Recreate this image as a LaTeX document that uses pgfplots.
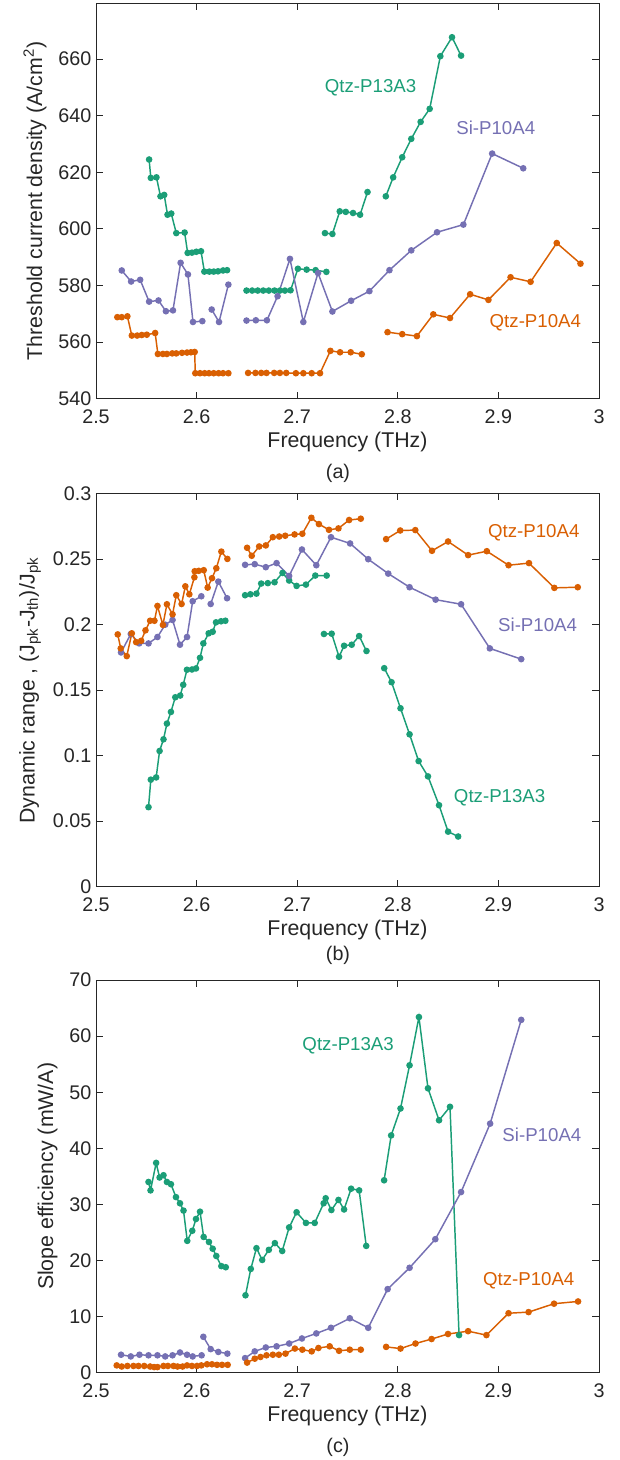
\documentclass[border=0pt]{standalone}
\usepackage{fontspec}
\setmainfont{Liberation Sans}
\usepackage{pgfplots}
\pgfplotsset{compat=1.18}
\definecolor{cg}{RGB}{27,158,119}
\definecolor{co}{RGB}{217,95,2}
\definecolor{cp}{RGB}{117,112,179}
\definecolor{axg}{RGB}{38,38,38}
\tikzset{ann/.style={font=\fontsize{14}{16}\selectfont, anchor=base west, inner sep=0pt}}
\pgfplotsset{
  myax/.style={
    scale only axis, width=377.25pt, anchor=south west,
    xmin=2.5, xmax=3,
    xtick={2.5,2.6,2.7,2.8,2.9,3}, xticklabels={2.5,2.6,2.7,2.8,2.9,3},
    tick align=inside, major tick length=5pt,
    axis line style={color=axg, line width=0.7pt},
    tick style={color=axg, line width=0.7pt},
    ticklabel style={font=\fontsize{14.8}{17}\selectfont, color=axg},
    xticklabel style={yshift=-4.5pt},
    label style={font=\fontsize{16}{19}\selectfont, color=axg},
    ylabel shift=2pt,
    xlabel={Frequency (THz)},
    scaled ticks=false,
    /pgf/number format/assume math mode=true,
  },
  ser/.style={line width=1.1pt, mark=*, mark size=1.9pt, mark options={solid}},
}
\begin{document}
\begin{tikzpicture}
\path[use as bounding box] (0pt,0pt) rectangle (465pt,1095pt);
%================ (a)
\begin{axis}[myax, at={(72pt,795.98pt)}, height=296.55pt,
  ymin=540, ymax=679.7, ytick={540,560,580,600,620,640,660},
  ylabel={Threshold current density (A/cm\textsuperscript{2})}]
% green
\addplot[ser, cg] coordinates {(2.5528,624.5)(2.5545,618.0)(2.5601,618.2)(2.5641,611.5)(2.5678,612.0)(2.5711,605.0)(2.5748,605.4)(2.5798,598.5)(2.5881,598.7)(2.5911,591.5)(2.5954,591.6)(2.5997,591.9)(2.6044,592.1)(2.6077,584.9)(2.6127,584.9)(2.6170,584.9)(2.6213,585.0)(2.6263,585.3)(2.6303,585.4)};
\addplot[ser, cg] coordinates {(2.6496,578.2)(2.6552,578.2)(2.6608,578.2)(2.6662,578.2)(2.6718,578.2)(2.6775,578.2)(2.6828,578.2)(2.6878,578.2)(2.6934,578.3)(2.7007,585.9)(2.7094,585.6)(2.7183,585.4)(2.7290,584.8)};
\addplot[ser, cg] coordinates {(2.7276,598.5)(2.7350,598.2)(2.7423,606.2)(2.7483,606.0)(2.7555,605.6)(2.7625,605.0)(2.7699,613.0)};
\addplot[ser, cg] coordinates {(2.7881,611.5)(2.7954,618.2)(2.8044,625.3)(2.8134,631.8)(2.8227,637.8)(2.8317,642.4)(2.8423,661.0)(2.8539,667.7)(2.8629,661.2)};
% purple
\addplot[ser, cp] coordinates {(2.5256,585.3)(2.5349,581.4)(2.5439,582.0)(2.5528,574.3)(2.5621,574.7)(2.5695,570.9)(2.5765,571.2)(2.5841,588.0)(2.5914,583.9)(2.5964,567.1)(2.6057,567.4)};
\addplot[ser, cp] coordinates {(2.6150,571.5)(2.6223,567.1)(2.6316,580.3)};
\addplot[ser, cp] coordinates {(2.6496,567.6)(2.6589,567.7)(2.6699,567.7)(2.6805,576.2)(2.6928,589.4)(2.7061,567.1)(2.7207,584.4)(2.7350,570.8)(2.7536,574.6)(2.7718,578.0)(2.7917,585.4)(2.8134,592.4)(2.8390,598.8)(2.8652,601.5)(2.8938,626.6)(2.9247,621.4)};
% orange
\addplot[ser, co] coordinates {(2.5212,568.8)(2.5256,568.8)(2.5312,569.1)(2.5356,562.3)(2.5409,562.3)(2.5455,562.5)(2.5505,562.6)(2.5588,563.2)(2.5615,555.8)(2.5665,555.8)(2.5705,555.8)(2.5758,556.0)(2.5798,556.0)(2.5855,556.2)(2.5905,556.3)(2.5944,556.4)(2.5981,556.5)(2.5987,549.0)(2.6034,549.0)(2.6080,549.0)(2.6123,549.0)(2.6170,549.0)(2.6219,549.0)(2.6263,549.0)(2.6316,549.0)};
\addplot[ser, co] coordinates {(2.6512,549.1)(2.6585,549.1)(2.6642,549.1)(2.6695,549.1)(2.6771,549.1)(2.6828,549.1)(2.6891,549.1)(2.6987,549.0)(2.7061,549.0)(2.7144,549.0)(2.7227,549.0)(2.7330,556.9)(2.7426,556.4)(2.7532,556.4)(2.7642,555.7)};
\addplot[ser, co] coordinates {(2.7898,563.5)(2.8044,562.8)(2.8190,562.1)(2.8353,569.8)(2.8519,568.5)(2.8719,576.9)(2.8901,574.9)(2.9121,582.9)(2.9320,581.3)(2.9580,595.0)(2.9816,587.7)};
\node[ann, cg] at (axis cs:2.7273,648.1) {Qtz-P13A3};
\node[ann, cp] at (axis cs:2.8579,633.3) {Si-P10A4};
\node[ann, co] at (axis cs:2.8911,565.0) {Qtz-P10A4};
\end{axis}
\node[font=\fontsize{14.8}{17}\selectfont, anchor=base, inner sep=0pt, color=axg] at (253.5pt,735.75pt) {(a)};
%================ (b)
\begin{axis}[myax, at={(72pt,429.98pt)}, height=294.75pt,
  ymin=0, ymax=0.3, ytick={0,0.05,0.1,0.15,0.2,0.25,0.3}, yticklabels={0,0.05,0.1,0.15,0.2,0.25,0.3},
  ylabel={Dynamic range , (J\textsubscript{pk}-J\textsubscript{th})/J\textsubscript{pk}}]
% green
\addplot[ser, cg] coordinates {(2.5522,0.0607)(2.5545,0.0817)(2.5598,0.0834)(2.5632,0.1036)(2.5671,0.1125)(2.5705,0.1245)(2.5745,0.1334)(2.5788,0.1446)(2.5837,0.1459)(2.5867,0.1541)(2.5904,0.1656)(2.5954,0.1658)(2.5994,0.1666)(2.6034,0.1747)(2.6067,0.1857)(2.6120,0.1934)(2.6160,0.1946)(2.6193,0.2018)(2.6243,0.2026)(2.6286,0.2030)};
\addplot[ser, cg] coordinates {(2.6482,0.2225)(2.6535,0.2232)(2.6595,0.2237)(2.6642,0.2314)(2.6708,0.2317)(2.6775,0.2324)(2.6854,0.2395)(2.6920,0.2337)(2.6994,0.2296)(2.7087,0.2306)(2.7180,0.2375)(2.7293,0.2375)};
\addplot[ser, cg] coordinates {(2.7266,0.1929)(2.7343,0.1931)(2.7416,0.1755)(2.7466,0.1839)(2.7542,0.1847)(2.7616,0.1913)(2.7689,0.1799)};
\addplot[ser, cg] coordinates {(2.7865,0.1668)(2.7938,0.1561)(2.8027,0.1362)(2.8117,0.1163)(2.8207,0.0959)(2.8300,0.0842)(2.8410,0.0622)(2.8500,0.0420)(2.8600,0.0383)};
% purple
\addplot[ser, cp] coordinates {(2.5249,0.1788)(2.5346,0.1929)(2.5429,0.1857)(2.5522,0.1857)(2.5611,0.1906)(2.5688,0.2000)(2.5761,0.2036)(2.5835,0.1847)(2.5905,0.1906)(2.5961,0.2179)(2.6047,0.2217)};
\addplot[ser, cp] coordinates {(2.6140,0.2158)(2.6216,0.2329)(2.6303,0.2202)};
\addplot[ser, cp] coordinates {(2.6482,0.2457)(2.6578,0.2462)(2.6688,0.2439)(2.6795,0.2470)(2.6920,0.2372)(2.7047,0.2574)(2.7190,0.2454)(2.7336,0.2668)(2.7526,0.2620)(2.7706,0.2500)(2.7905,0.2390)(2.8117,0.2286)(2.8376,0.2191)(2.8629,0.2156)(2.8915,0.1819)(2.9227,0.1737)};
% orange
\addplot[ser, co] coordinates {(2.5216,0.1926)(2.5246,0.1819)(2.5306,0.1760)(2.5356,0.1934)(2.5399,0.1867)(2.5449,0.1877)(2.5492,0.1957)(2.5538,0.2030)(2.5581,0.2030)(2.5611,0.2143)(2.5665,0.1998)(2.5705,0.2156)(2.5761,0.2079)(2.5798,0.2225)(2.5851,0.2158)(2.5888,0.2293)(2.5928,0.2232)(2.5978,0.2362)(2.5981,0.2408)(2.6021,0.2411)(2.6071,0.2416)(2.6110,0.2283)(2.6153,0.2355)(2.6196,0.2431)(2.6246,0.2558)(2.6306,0.2502)};
\addplot[ser, co] coordinates {(2.6502,0.2587)(2.6548,0.2526)(2.6622,0.2597)(2.6688,0.2605)(2.6758,0.2668)(2.6821,0.2673)(2.6881,0.2679)(2.6974,0.2689)(2.7051,0.2694)(2.7141,0.2816)(2.7216,0.2768)(2.7316,0.2724)(2.7410,0.2735)(2.7516,0.2799)(2.7632,0.2809)};
\addplot[ser, co] coordinates {(2.7884,0.2653)(2.8024,0.2719)(2.8174,0.2722)(2.8340,0.2564)(2.8500,0.2635)(2.8699,0.2531)(2.8885,0.2561)(2.9101,0.2454)(2.9304,0.2470)(2.9556,0.2281)(2.9789,0.2286)};
\node[ann, co] at (axis cs:2.8895,0.2667) {Qtz-P10A4};
\node[ann, cp] at (axis cs:2.8995,0.1947) {Si-P10A4};
\node[ann, cg] at (axis cs:2.8556,0.0644) {Qtz-P13A3};
\end{axis}
\node[font=\fontsize{14.8}{17}\selectfont, anchor=base, inner sep=0pt, color=axg] at (253.5pt,374.25pt) {(b)};
%================ (c)
\begin{axis}[myax, at={(72pt,65.48pt)}, height=294.5pt,
  ymin=0, ymax=70, ytick={0,10,20,30,40,50,60,70},
  ylabel={Slope efficiency (mW/A)}]
% green
\addplot[ser, cg] coordinates {(2.5522,34.0)(2.5542,32.5)(2.5598,37.4)(2.5632,34.8)(2.5671,35.2)(2.5705,34.0)(2.5745,33.6)(2.5795,31.3)(2.5835,30.2)(2.5870,28.9)(2.5907,23.5)(2.5957,25.3)(2.5994,27.4)(2.6034,28.7)(2.6070,24.2)(2.6123,23.3)(2.6160,22.1)(2.6196,20.8)(2.6246,19.0)(2.6290,18.8)};
\addplot[ser, cg] coordinates {(2.6486,13.8)(2.6539,18.5)(2.6595,22.2)(2.6652,20.1)(2.6718,21.9)(2.6778,23.1)(2.6851,21.7)(2.6920,25.9)(2.6994,28.6)(2.7087,26.7)(2.7174,26.7)(2.7263,30.2)(2.7283,31.1)(2.7340,29.0)(2.7410,30.8)(2.7466,29.1)(2.7536,32.8)(2.7616,32.5)(2.7686,22.6)};
\addplot[ser, cg] coordinates {(2.7864,34.3)(2.7934,42.3)(2.8027,47.1)(2.8117,54.8)(2.8210,63.4)(2.8300,50.7)(2.8410,45.0)(2.8519,47.4)(2.8609,6.7)};
% purple
\addplot[ser, cp] coordinates {(2.5249,3.2)(2.5346,2.9)(2.5432,3.2)(2.5522,3.1)(2.5611,3.1)(2.5688,2.9)(2.5761,3.1)(2.5835,3.6)(2.5905,3.2)(2.5961,2.9)(2.6050,3.1)};
\addplot[ser, cp] coordinates {(2.6067,6.4)(2.6140,4.2)(2.6216,3.7)(2.6306,3.4)};
\addplot[ser, cp] coordinates {(2.6482,2.6)(2.6578,3.8)(2.6688,4.5)(2.6795,4.7)(2.6920,5.2)(2.7047,6.1)(2.7190,7.0)(2.7336,8.0)(2.7523,9.7)(2.7706,8.0)(2.7899,14.9)(2.8117,18.7)(2.8373,23.8)(2.8629,32.2)(2.8918,44.4)(2.9227,62.9)};
% orange
\addplot[ser, co] coordinates {(2.5206,1.3)(2.5256,1.1)(2.5312,1.2)(2.5372,1.2)(2.5422,1.2)(2.5479,1.2)(2.5538,1.1)(2.5578,1.0)(2.5611,1.0)(2.5671,1.2)(2.5715,1.2)(2.5771,1.2)(2.5811,1.1)(2.5861,1.1)(2.5905,1.3)(2.5954,1.2)(2.6004,1.2)(2.6047,1.3)(2.6104,1.5)(2.6153,1.5)(2.6203,1.4)(2.6253,1.4)(2.6309,1.4)};
\addplot[ser, co] coordinates {(2.6502,1.8)(2.6578,2.5)(2.6635,2.8)(2.6695,3.1)(2.6758,3.2)(2.6818,3.2)(2.6884,3.4)(2.6977,4.3)(2.7051,4.1)(2.7144,3.8)(2.7211,4.4)(2.7323,4.7)(2.7416,3.9)(2.7523,4.1)(2.7632,4.1)};
\addplot[ser, co] coordinates {(2.7884,4.6)(2.8027,4.3)(2.8176,5.2)(2.8336,6.0)(2.8499,6.9)(2.8699,7.4)(2.8881,6.7)(2.9101,10.6)(2.9300,10.8)(2.9553,12.3)(2.9792,12.7)};
\node[ann, cg] at (axis cs:2.7050,57.4) {Qtz-P13A3};
\node[ann, cp] at (axis cs:2.9038,41.2) {Si-P10A4};
\node[ann, co] at (axis cs:2.8845,15.6) {Qtz-P10A4};
\end{axis}
\node[font=\fontsize{14.8}{17}\selectfont, anchor=base, inner sep=0pt, color=axg] at (253.5pt,5.48pt) {(c)};
\end{tikzpicture}
\end{document}
